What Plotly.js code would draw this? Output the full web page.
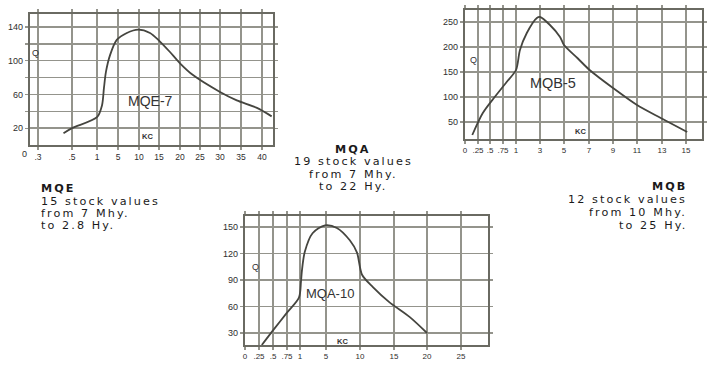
<!DOCTYPE html>
<html>
<head>
<meta charset="utf-8">
<script src="https://cdn.plot.ly/plotly-3.0.1.min.js"></script>
<style>
  html, body { margin: 0; padding: 0; background: #ffffff; }
  #chart { width: 716px; height: 372px; }
  .annotation-text[style*="DejaVu"] { letter-spacing: 2.1px; }
</style>
</head>
<body>
<div id="chart"></div>
<script>
// ---------------- DATA ----------------
// MQE-7 : Q versus frequency (KC)
const mqeKC = [0.45, 0.5, 1, 1.95, 2.33, 2.71, 3.5, 4.8, 7.1, 9.8, 12.75, 15, 17.5, 20, 23.25, 30, 34, 38.8, 42.3];
const mqeQ  = [14, 20, 33, 47, 68, 87, 107, 125, 133, 137, 133, 124, 111, 97, 83, 63, 53, 44, 34];
const mqeTickKC   = [0.3, 0.5, 1, 5, 10, 15, 20, 25, 30, 35, 40];
const mqeTickText = [".3", ".5", "1", "5", "10", "15", "20", "25", "30", "35", "40"];
const mqeYTicks   = [20, 40, 60, 80, 100, 120, 140];
const mqeYText    = ["20", "", "60", "", "100", "", "140"];

// MQB-5
const mqbKC = [0.14, 0.35, 0.59, 0.82, 1.0, 1.33, 1.9, 2.74, 3, 3.83, 4.67, 5, 6.07, 7.05, 9, 11, 12.9, 15.1];
const mqbQ  = [24, 68, 100, 130, 154, 194, 228, 258, 260, 244, 220, 204, 178, 154, 118, 84, 58, 30];
const mqbTickKC   = [0, 0.25, 0.5, 0.75, 1, 3, 5, 7, 9, 11, 13, 15];
const mqbTickText = ["0", ".25", ".5", ".75", "1", "3", "5", "7", "9", "11", "13", "15"];
const mqbYTicks   = [50, 100, 150, 200, 250];
const mqbYText    = ["50", "100", "150", "200", "250"];

// MQA-10
const mqaKC = [0.3, 0.5, 0.75, 0.98, 1.15, 1.3, 1.74, 2.93, 4.85, 6.6, 8.5, 9.56, 10.3, 11.9, 14.3, 17.4, 20];
const mqaQ  = [16.4, 33, 53, 70, 88, 101, 122, 143, 152, 149, 135, 121, 96, 82, 65, 48, 30];
const mqaTickKC   = [0, 0.25, 0.5, 0.75, 1, 5, 10, 15, 20, 25];
const mqaTickText = ["0", ".25", ".5", ".75", "1", "5", "10", "15", "20", "25"];
const mqaYTicks   = [30, 60, 90, 120, 150];
const mqaYText    = ["30", "60", "90", "120", "150"];

// ---------------- LAYOUT GEOMETRY ----------------
const W = 716, H = 372;
// frame of each plot, in page pixels
const mqeFrame = {l: 29.5, r: 273, t: 14, b: 145};
const mqbFrame = {l: 464.5, r: 702, t: 10, b: 139};
const mqaFrame = {l: 244.5, r: 488, t: 216, b: 345};
// where each printed (non-uniform) KC tick sits along its axis, in page pixels
const mqeTickPx = [38, 72, 97, 118, 139, 159, 180, 200, 220, 241, 262];
const mqbTickPx = [465, 478, 490, 503, 516, 540, 564, 589, 613, 637, 662, 686];
const mqaTickPx = [245, 259, 273, 287, 300, 326, 360, 394, 427, 461];
const mqeYRange = [0, 155.5];
const mqbYRange = [16, 274];
const mqaYRange = [16.4, 162.5];

// piecewise scale of the printed KC axis
function kcScale(tKC, tPx) {
  return function (v) {
    let i = 0;
    while (i < tKC.length - 2 && v > tKC[i + 1]) i++;
    const f = (v - tKC[i]) / (tKC[i + 1] - tKC[i]);
    return tPx[i] + f * (tPx[i + 1] - tPx[i]);
  };
}

const GRID = '#94948c', FRAME = '#6a6a62', CURVE = '#45453f';
const yTickFont = {family: 'Liberation Sans, Arial, sans-serif', size: 9, color: '#2e2e2e'};
const xTickFont = {family: 'Liberation Sans, Arial, sans-serif', size: 8.5, color: '#2e2e2e'};

function xAxis(frame, tKC, tPx, tText, yId, fontSize) {
  return {
    domain: [frame.l / W, frame.r / W], range: [frame.l, frame.r], anchor: yId,
    tickmode: 'array', tickvals: tPx, ticktext: tText, tickangle: 0,
    showgrid: true, gridcolor: GRID, gridwidth: 1.3, zeroline: false,
    showline: true, mirror: 'ticks', linecolor: FRAME, linewidth: 1.7,
    ticks: 'outside', ticklen: 3, tickcolor: GRID, tickwidth: 1.2,
    tickfont: Object.assign({}, xTickFont, {size: fontSize}), fixedrange: true
  };
}
function yAxis(frame, range, tv, tt, xId) {
  return {
    domain: [1 - frame.b / H, 1 - frame.t / H], range: range, anchor: xId,
    tickmode: 'array', tickvals: tv, ticktext: tt, tickangle: 0,
    showgrid: true, gridcolor: GRID, gridwidth: 1.3, zeroline: false,
    showline: true, mirror: 'ticks', linecolor: FRAME, linewidth: 1.7,
    ticks: 'outside', ticklen: 3, tickcolor: GRID, tickwidth: 1.2,
    tickfont: yTickFont, fixedrange: true
  };
}

const sE = kcScale(mqeTickKC, mqeTickPx);
const sB = kcScale(mqbTickKC, mqbTickPx);
const sA = kcScale(mqaTickKC, mqaTickPx);

const curveLine = {color: CURVE, width: 1.8, shape: 'spline', smoothing: 0.8};
const traces = [
  {x: mqeKC.map(sE), y: mqeQ, xaxis: 'x', yaxis: 'y', mode: 'lines', line: curveLine, hoverinfo: 'skip'},
  {x: mqbKC.map(sB), y: mqbQ, xaxis: 'x2', yaxis: 'y2', mode: 'lines', line: curveLine, hoverinfo: 'skip'},
  {x: mqaKC.map(sA), y: mqaQ, xaxis: 'x3', yaxis: 'y3', mode: 'lines', line: curveLine, hoverinfo: 'skip'}
];

function lbl(text, xpx, ypx, size, extra) {
  return Object.assign({
    xref: 'paper', yref: 'paper', x: xpx / W, y: 1 - ypx / H, text: text,
    showarrow: false, xanchor: 'center', yanchor: 'middle',
    font: {family: 'Liberation Sans, Arial, sans-serif', size: size, color: '#333'}
  }, extra || {});
}
const blurbFont = {family: 'DejaVu Sans', size: 11.2, color: '#1a1a1a'};
function blurb(lines, xpx, ys, anchor) {
  return lines.map((t, i) => lbl(t, xpx, ys[i], 11.2, {xanchor: anchor, font: blurbFont}));
}

const annotations = [].concat(
  blurb(['<b>MQE</b>', '15 stock values', 'from 7 Mhy.', 'to 2.8 Hy.'], 39, [188, 201, 213, 225], 'left'),
  blurb(['<b>MQA</b>', '19 stock values', 'from 7 Mhy.', 'to 22 Hy.'], 353, [149, 161.5, 174, 186.5], 'center'),
  blurb(['<b>MQB</b>', '12 stock values', 'from 10 Mhy.', 'to 25 Hy.'], 689, [186, 199.5, 212.5, 225.5], 'right'),
  [
    lbl('MQE-7', 150, 101, 14),
    lbl('MQB-5', 553, 83, 14.5),
    lbl('MQA-10', 330, 293, 13),
    lbl('Q', 35, 53, 9),
    lbl('Q', 473, 60, 9),
    lbl('Q', 255, 267, 9),
    lbl('<b>KC</b>', 147, 136, 7.5),
    lbl('<b>KC</b>', 580, 131, 7.5),
    lbl('<b>KC</b>', 342, 341, 7.5),
    lbl('0', 24, 154, 9, {font: yTickFont})
  ]
);

const layout = {
  width: W, height: H, margin: {l: 0, r: 0, t: 0, b: 0},
  paper_bgcolor: '#ffffff', plot_bgcolor: '#ffffff', showlegend: false,
  xaxis: xAxis(mqeFrame, mqeTickKC, mqeTickPx, mqeTickText, 'y', 8.5),
  yaxis: yAxis(mqeFrame, mqeYRange, mqeYTicks, mqeYText, 'x'),
  xaxis2: xAxis(mqbFrame, mqbTickKC, mqbTickPx, mqbTickText, 'y2', 8),
  yaxis2: yAxis(mqbFrame, mqbYRange, mqbYTicks, mqbYText, 'x2'),
  xaxis3: xAxis(mqaFrame, mqaTickKC, mqaTickPx, mqaTickText, 'y3', 8),
  yaxis3: yAxis(mqaFrame, mqaYRange, mqaYTicks, mqaYText, 'x3'),
  annotations: annotations
};

Plotly.newPlot('chart', traces, layout, {displayModeBar: false, staticPlot: true});
</script>
</body>
</html>
